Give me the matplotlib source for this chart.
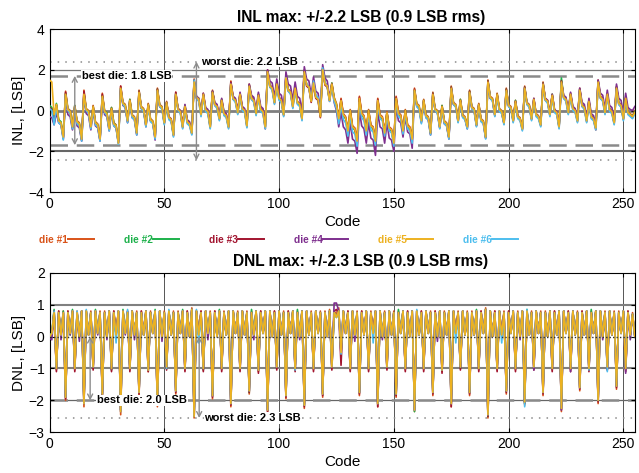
import numpy as np
import matplotlib
matplotlib.use("Agg")
import matplotlib.pyplot as plt
from matplotlib.lines import Line2D

plt.rcParams['font.family'] = ['Liberation Sans', 'DejaVu Sans']

# ==== data: INL / DNL per die (LSB), code 0..255 ====
codes = np.arange(256)

inl_die1 = [
    0.2, 0.1, -0.6, 0.3, -0.5, -0.6, -1.3, 0.95,
    0.1, 0.0, -0.75, 0.25, -0.5, -0.6, -1.35, 1.0,
    0.1, 0.0, -0.75, 0.25, -0.55, -0.65, -1.35, 0.85,
    0.0, -0.1, -0.85, 0.15, -0.6, -0.7, -1.5, 1.2,
    0.4, 0.3, -0.45, 0.55, -0.2, -0.3, -1.05, 1.0,
    0.2, 0.1, -0.65, 0.35, -0.4, -0.5, -1.25, 1.1,
    0.3, 0.2, -0.55, 0.45, -0.3, -0.4, -1.15, 0.9,
    0.1, 0.0, -0.75, 0.25, -0.5, -0.6, -1.05, 1.55,
    0.7, 0.6, -0.15, 0.85, 0.1, 0.0, -0.75, 1.0,
    0.35, 0.25, -0.35, 0.55, -0.1, -0.2, -0.75, 1.45,
    0.65, 0.55, -0.05, 0.85, 0.15, 0.05, -0.7, 1.3,
    0.65, 0.55, -0.1, 0.8, 0.1, 0.0, -0.75, 2.0,
    1.25, 1.15, 0.45, 1.35, 0.65, 0.55, -0.15, 1.7,
    1.05, 0.95, 0.25, 1.15, 0.45, 0.35, -0.35, 2.0,
    1.3, 1.2, 0.5, 1.4, 0.7, 0.6, -0.25, 2.05,
    1.35, 1.25, 0.55, 1.35, 0.65, 0.35, -0.35, 0.6,
    -0.15, -0.3, -0.95, 0.05, -0.75, -0.85, -1.45, 0.7,
    -0.1, -0.25, -0.95, 0.05, -0.7, -0.8, -1.45, 0.6,
    -0.2, -0.3, -1.05, -0.05, -0.8, -0.9, -1.55, 0.7,
    -0.1, -0.2, -0.95, 0.05, -0.7, -0.8, -1.35, 1.1,
    0.35, 0.25, -0.45, 0.55, -0.2, -0.3, -1.05, 0.9,
    0.1, 0.0, -0.75, 0.25, -0.5, -0.6, -1.25, 1.2,
    0.4, 0.3, -0.45, 0.55, -0.2, -0.3, -0.75, 1.0,
    0.2, 0.1, -0.65, 0.35, -0.4, -0.5, -1.25, 1.5,
    0.7, 0.6, -0.15, 0.85, 0.1, 0.0, -0.55, 1.1,
    0.3, 0.2, -0.45, 0.5, -0.25, -0.35, -0.85, 1.2,
    0.4, 0.3, -0.35, 0.6, -0.15, -0.25, -0.65, 1.4,
    0.6, 0.5, -0.15, 0.8, 0.05, -0.05, -0.75, 1.5,
    0.7, 0.6, -0.05, 0.85, 0.15, 0.05, -0.45, 1.1,
    0.3, 0.2, -0.45, 0.5, -0.25, -0.35, -0.8, 1.5,
    0.7, 0.6, -0.05, 0.85, 0.1, 0.0, -0.55, 1.2,
    0.4, 0.3, -0.35, 0.65, -0.05, -0.15, -0.25, 0.0,
]
inl_die2 = [
    0.25, 0.15, -0.55, 0.35, -0.45, -0.55, -1.25, 0.85,
    0.05, -0.05, -0.8, 0.25, -0.55, -0.65, -1.4, 0.85,
    0.05, -0.05, -0.75, 0.2, -0.6, -0.7, -1.4, 0.75,
    -0.05, -0.1, -0.9, 0.15, -0.6, -0.75, -1.55, 1.1,
    0.35, 0.25, -0.5, 0.55, -0.25, -0.35, -1.1, 0.95,
    0.15, 0.05, -0.7, 0.3, -0.45, -0.55, -1.3, 1.05,
    0.25, 0.15, -0.6, 0.4, -0.35, -0.45, -1.2, 0.85,
    0.05, -0.05, -0.8, 0.25, -0.55, -0.65, -1.1, 1.45,
    0.65, 0.6, -0.2, 0.8, 0.05, -0.05, -0.8, 0.95,
    0.3, 0.2, -0.4, 0.55, -0.15, -0.25, -0.8, 1.35,
    0.6, 0.5, -0.1, 0.8, 0.1, 0.0, -0.75, 1.25,
    0.6, 0.5, -0.15, 0.8, 0.05, -0.05, -0.8, 1.95,
    1.2, 1.1, 0.4, 1.35, 0.6, 0.5, -0.2, 1.65,
    1.0, 0.9, 0.25, 1.15, 0.4, 0.3, -0.4, 1.95,
    1.25, 1.15, 0.45, 1.4, 0.65, 0.55, -0.3, 2.05,
    1.3, 1.2, 0.5, 1.35, 0.6, 0.3, -0.45, 0.5,
    -0.25, -0.4, -1.05, 0.0, -0.85, -0.95, -1.55, 0.55,
    -0.2, -0.35, -1.05, 0.0, -0.8, -0.9, -1.55, 0.5,
    -0.3, -0.4, -1.15, -0.1, -0.9, -1.0, -1.65, 0.55,
    -0.2, -0.3, -1.05, 0.0, -0.8, -0.9, -1.45, 1.0,
    0.3, 0.2, -0.5, 0.5, -0.25, -0.35, -1.1, 0.85,
    0.05, -0.05, -0.8, 0.25, -0.55, -0.65, -1.3, 1.15,
    0.35, 0.25, -0.5, 0.55, -0.25, -0.35, -0.8, 0.95,
    0.15, 0.05, -0.7, 0.3, -0.45, -0.55, -1.3, 1.45,
    0.65, 0.55, -0.2, 0.8, 0.05, -0.05, -0.6, 1.05,
    0.25, 0.15, -0.5, 0.5, -0.3, -0.4, -0.9, 1.15,
    0.35, 0.25, -0.4, 0.55, -0.2, -0.3, -0.7, 1.35,
    0.55, 0.45, -0.2, 0.8, 0.0, -0.1, -0.8, 1.6,
    0.65, 0.55, -0.1, 0.8, 0.1, 0.0, -0.5, 1.05,
    0.25, 0.15, -0.5, 0.5, -0.3, -0.4, -0.85, 1.45,
    0.65, 0.55, -0.1, 0.8, 0.05, -0.05, -0.6, 1.15,
    0.35, 0.25, -0.4, 0.6, -0.1, -0.2, -0.3, -0.05,
]
inl_die3 = [
    0.15, 0.05, -0.65, 0.25, -0.55, -0.65, -1.35, 0.9,
    0.0, -0.1, -0.85, 0.2, -0.6, -0.7, -1.45, 0.95,
    0.0, -0.1, -0.85, 0.2, -0.65, -0.75, -1.45, 0.8,
    -0.1, -0.2, -0.95, 0.1, -0.7, -0.8, -1.6, 1.2,
    0.3, 0.2, -0.55, 0.5, -0.3, -0.4, -1.15, 0.95,
    0.1, 0.0, -0.75, 0.3, -0.5, -0.6, -1.35, 1.05,
    0.2, 0.1, -0.65, 0.4, -0.4, -0.5, -1.25, 0.9,
    0.0, -0.1, -0.85, 0.2, -0.6, -0.7, -1.15, 1.5,
    0.6, 0.5, -0.25, 0.8, 0.0, -0.1, -0.85, 0.95,
    0.25, 0.15, -0.45, 0.5, -0.2, -0.3, -0.85, 1.4,
    0.55, 0.45, -0.15, 0.8, 0.05, -0.05, -0.8, 1.25,
    0.55, 0.45, -0.2, 0.75, 0.0, -0.1, -0.9, 1.95,
    1.15, 1.05, 0.35, 1.3, 0.55, 0.45, -0.25, 1.65,
    0.95, 0.85, 0.15, 1.1, 0.35, 0.25, -0.45, 1.95,
    1.2, 1.1, 0.4, 1.35, 0.6, 0.5, -0.35, 2.05,
    1.25, 1.15, 0.45, 1.3, 0.55, 0.25, -0.45, 0.55,
    -0.2, -0.35, -1.05, 0.0, -0.8, -0.9, -1.5, 0.65,
    -0.15, -0.3, -1.0, 0.0, -0.75, -0.85, -1.5, 0.55,
    -0.25, -0.35, -1.1, -0.1, -0.85, -0.95, -1.6, 0.65,
    -0.15, -0.25, -1.0, 0.0, -0.75, -0.85, -1.4, 1.05,
    0.25, 0.15, -0.55, 0.5, -0.3, -0.4, -1.15, 0.85,
    0.0, -0.1, -0.85, 0.2, -0.6, -0.7, -1.35, 1.15,
    0.3, 0.2, -0.55, 0.5, -0.3, -0.4, -0.85, 0.95,
    0.1, 0.0, -0.75, 0.3, -0.5, -0.6, -1.35, 1.45,
    0.6, 0.5, -0.25, 0.8, 0.0, -0.1, -0.65, 1.05,
    0.2, 0.1, -0.55, 0.45, -0.35, -0.45, -0.95, 1.15,
    0.3, 0.2, -0.45, 0.55, -0.25, -0.35, -0.75, 1.35,
    0.5, 0.4, -0.25, 0.75, -0.05, -0.15, -0.85, 1.45,
    0.6, 0.5, -0.15, 0.8, 0.05, -0.05, -0.55, 1.05,
    0.2, 0.1, -0.55, 0.45, -0.35, -0.45, -0.95, 1.45,
    0.6, 0.5, -0.15, 0.8, 0.0, -0.1, -0.65, 1.15,
    0.3, 0.2, -0.45, 0.6, -0.15, -0.25, -0.35, -0.1,
]
inl_die4 = [
    -0.3, -0.35, -0.7, -0.1, -0.6, -0.7, -1.4, 0.7,
    -0.2, -0.3, -0.95, -0.05, -0.75, -0.85, -1.5, 0.7,
    -0.15, -0.25, -0.95, 0.0, -0.75, -0.85, -1.5, 0.6,
    -0.2, -0.3, -1.0, -0.05, -0.75, -0.85, -1.6, 1.0,
    0.25, 0.15, -0.6, 0.4, -0.35, -0.45, -1.2, 0.85,
    0.1, 0.0, -0.8, 0.25, -0.5, -0.6, -1.45, 0.95,
    0.2, 0.1, -0.6, 0.4, -0.35, -0.45, -1.2, 0.8,
    0.1, 0.0, -0.7, 0.3, -0.45, -0.55, -1.1, 1.4,
    0.7, 0.6, -0.1, 0.85, 0.15, 0.05, -0.7, 0.95,
    0.4, 0.3, -0.3, 0.6, -0.05, -0.15, -0.7, 1.35,
    0.7, 0.6, 0.0, 0.9, 0.2, 0.1, -0.65, 1.3,
    0.75, 0.65, 0.0, 0.9, 0.2, 0.1, -0.6, 2.0,
    1.45, 1.35, 0.65, 1.55, 0.85, 0.75, 0.05, 1.9,
    1.3, 1.2, 0.5, 1.4, 0.7, 0.6, -0.1, 2.15,
    1.55, 1.45, 0.75, 1.65, 0.95, 0.85, 0.0, 2.25,
    1.6, 1.45, 0.6, 1.3, 0.4, 0.0, -0.8, -0.1,
    -0.8, -0.95, -1.6, -0.6, -1.4, -1.5, -2.1, 0.0,
    -0.75, -0.9, -1.6, -0.6, -1.35, -1.45, -2.2, -0.1,
    -0.8, -0.9, -1.6, -0.6, -1.35, -1.45, -2.0, 0.2,
    -0.5, -0.6, -1.3, -0.3, -1.05, -1.15, -1.85, 0.85,
    0.2, 0.1, -0.6, 0.4, -0.35, -0.45, -1.2, 0.75,
    0.0, -0.1, -0.85, 0.15, -0.65, -0.75, -1.4, 1.05,
    0.3, 0.2, -0.55, 0.45, -0.3, -0.4, -0.9, 0.85,
    0.1, 0.0, -0.75, 0.25, -0.5, -0.6, -1.35, 1.35,
    0.6, 0.5, -0.25, 0.75, 0.0, -0.1, -0.65, 0.95,
    0.25, 0.15, -0.5, 0.45, -0.3, -0.4, -0.9, 1.1,
    0.35, 0.25, -0.4, 0.6, -0.2, -0.3, -0.7, 1.3,
    0.6, 0.5, -0.15, 0.8, 0.05, -0.05, -0.75, 1.4,
    0.75, 0.65, 0.0, 0.9, 0.2, 0.1, -0.4, 1.1,
    0.4, 0.3, -0.35, 0.6, -0.15, -0.25, -0.7, 1.5,
    0.85, 0.75, 0.1, 1.0, 0.25, 0.15, -0.4, 1.3,
    0.6, 0.5, -0.15, 0.85, 0.15, 0.05, 0.0, 0.2,
]
inl_die5 = [
    1.5, 1.4, -0.2, 0.3, -0.5, -0.6, -1.3, 0.8,
    0.05, -0.05, -0.8, 0.2, -0.55, -0.65, -1.4, 0.8,
    0.05, -0.05, -0.8, 0.2, -0.6, -0.7, -1.4, 0.7,
    -0.05, -0.15, -0.9, 0.1, -0.65, -0.75, -1.6, 1.1,
    0.35, 0.25, -0.5, 0.5, -0.25, -0.35, -1.1, 0.9,
    0.15, 0.05, -0.7, 0.3, -0.45, -0.55, -1.3, 1.0,
    0.25, 0.15, -0.6, 0.4, -0.35, -0.45, -1.2, 0.8,
    0.05, -0.05, -0.8, 0.2, -0.55, -0.65, -1.1, 1.4,
    0.65, 0.55, -0.2, 0.8, 0.05, -0.05, -0.8, 0.9,
    0.3, 0.2, -0.4, 0.5, -0.15, -0.25, -0.8, 1.3,
    0.6, 0.5, -0.1, 0.8, 0.1, 0.0, -0.75, 1.2,
    0.6, 0.5, -0.15, 0.75, 0.05, -0.05, -0.8, 1.9,
    1.2, 1.1, 0.4, 1.3, 0.6, 0.5, -0.2, 1.6,
    1.0, 0.9, 0.2, 1.1, 0.4, 0.3, -0.4, 1.9,
    1.25, 1.15, 0.45, 1.35, 0.65, 0.55, -0.3, 2.0,
    1.3, 1.2, 0.5, 1.3, 0.6, 0.3, -0.4, 0.5,
    -0.2, -0.35, -1.0, 0.0, -0.8, -0.9, -1.5, 0.6,
    -0.15, -0.3, -1.0, 0.0, -0.75, -0.85, -1.5, 0.5,
    -0.25, -0.35, -1.1, -0.1, -0.85, -0.95, -1.6, 0.6,
    -0.15, -0.25, -1.0, 0.0, -0.75, -0.85, -1.4, 1.0,
    0.3, 0.2, -0.5, 0.5, -0.25, -0.35, -1.1, 0.8,
    0.05, -0.05, -0.8, 0.2, -0.55, -0.65, -1.3, 1.1,
    0.35, 0.25, -0.5, 0.5, -0.25, -0.35, -0.8, 0.9,
    0.15, 0.05, -0.7, 0.3, -0.45, -0.55, -1.3, 1.4,
    0.65, 0.55, -0.2, 0.8, 0.05, -0.05, -0.6, 1.0,
    0.25, 0.15, -0.5, 0.45, -0.3, -0.4, -0.9, 1.1,
    0.35, 0.25, -0.4, 0.55, -0.2, -0.3, -0.7, 1.3,
    0.55, 0.45, -0.2, 0.75, 0.0, -0.1, -0.8, 1.4,
    0.65, 0.55, -0.1, 0.8, 0.1, 0.0, -0.5, 1.0,
    0.25, 0.15, -0.5, 0.45, -0.3, -0.4, -0.85, 1.4,
    0.65, 0.55, -0.1, 0.8, 0.05, -0.05, -0.6, 1.1,
    0.35, 0.25, -0.4, 0.6, -0.1, -0.2, -0.3, -0.1,
]
inl_die6 = [
    0.1, 0.0, -0.7, 0.2, -0.6, -0.7, -1.45, 0.75,
    0.0, -0.15, -0.9, 0.1, -0.65, -0.75, -1.5, 0.75,
    0.0, -0.15, -0.9, 0.1, -0.7, -0.8, -1.5, 0.65,
    -0.1, -0.25, -1.0, 0.0, -0.75, -0.85, -1.65, 1.05,
    0.3, 0.15, -0.6, 0.4, -0.35, -0.45, -1.2, 0.85,
    0.1, -0.05, -0.8, 0.2, -0.55, -0.65, -1.4, 0.95,
    0.2, 0.05, -0.7, 0.3, -0.45, -0.55, -1.3, 0.75,
    0.0, -0.15, -0.9, 0.1, -0.65, -0.75, -1.2, 1.5,
    0.6, 0.45, -0.3, 0.7, -0.05, -0.15, -0.9, 0.85,
    0.25, 0.1, -0.5, 0.4, -0.25, -0.35, -0.9, 1.25,
    0.55, 0.4, -0.2, 0.7, 0.0, -0.1, -0.85, 1.15,
    0.55, 0.4, -0.25, 0.65, -0.05, -0.15, -0.9, 1.85,
    1.15, 1.0, 0.3, 1.2, 0.5, 0.4, -0.3, 1.6,
    0.95, 0.8, 0.1, 1.0, 0.3, 0.2, -0.5, 1.85,
    1.3, 1.15, 0.5, 1.45, 0.75, 0.65, -0.2, 2.1,
    1.35, 1.2, 0.45, 1.2, 0.45, 0.1, -0.65, 0.3,
    -0.45, -0.6, -1.25, -0.25, -1.05, -1.15, -1.75, 0.4,
    -0.35, -0.5, -1.2, -0.2, -0.95, -1.05, -1.7, 0.35,
    -0.4, -0.5, -1.25, -0.25, -1.0, -1.1, -1.75, 0.45,
    -0.3, -0.4, -1.15, -0.15, -0.9, -1.0, -1.6, 0.95,
    0.2, 0.05, -0.65, 0.4, -0.35, -0.45, -1.2, 0.75,
    0.0, -0.15, -0.9, 0.1, -0.65, -0.75, -1.4, 1.05,
    0.3, 0.15, -0.6, 0.4, -0.35, -0.45, -0.9, 0.85,
    0.1, -0.05, -0.8, 0.2, -0.55, -0.65, -1.4, 1.35,
    0.6, 0.45, -0.3, 0.7, -0.05, -0.15, -0.7, 0.95,
    0.2, 0.05, -0.6, 0.35, -0.4, -0.5, -1.0, 1.05,
    0.3, 0.15, -0.5, 0.45, -0.3, -0.4, -0.8, 1.25,
    0.5, 0.35, -0.3, 0.65, -0.1, -0.2, -0.9, 1.35,
    0.6, 0.45, -0.2, 0.7, 0.0, -0.1, -0.6, 0.95,
    0.2, 0.05, -0.6, 0.35, -0.4, -0.5, -0.95, 1.35,
    0.6, 0.45, -0.2, 0.7, -0.05, -0.15, -0.7, 1.05,
    0.3, 0.15, -0.5, 0.5, -0.2, -0.3, -0.4, -0.15,
]

dnl_die1 = [
    0.0, 0.05, 0.8, -1.05, 0.8, 0.05, 0.8, -2.0,
    0.8, 0.1, 0.8, -1.05, 0.8, 0.0, 0.8, -2.2,
    0.8, 0.05, 0.8, -1.0, 0.8, 0.1, 0.8, -1.9,
    0.8, 0.0, 0.8, -1.05, 0.8, 0.05, 0.8, -2.45,
    0.8, 0.1, 0.8, -1.05, 0.8, 0.05, 0.8, -1.85,
    0.8, 0.05, 0.8, -1.1, 0.8, 0.1, 0.8, -2.2,
    0.8, 0.0, 0.8, -1.0, 0.8, 0.05, 0.8, -1.8,
    0.8, 0.1, 0.8, -1.05, 0.8, 0.0, 0.9, -2.55,
    0.8, 0.05, 0.8, -1.05, 0.8, 0.1, 0.8, -1.95,
    0.8, 0.0, 0.8, -1.05, 0.8, 0.05, 0.8, -2.2,
    0.8, 0.1, 0.8, -1.05, 0.8, 0.05, 0.8, -1.8,
    0.8, 0.05, 0.8, -1.1, 0.8, 0.1, 0.8, -2.4,
    0.8, 0.0, 0.8, -1.0, 0.8, 0.05, 0.8, -1.95,
    0.8, 0.1, 0.8, -1.05, 0.8, 0.0, 0.8, -2.25,
    0.8, 0.05, 0.8, -1.05, 0.8, 0.1, 0.8, -1.9,
    0.8, 0.0, 0.85, -1.0, 0.8, 0.7, 0.9, -0.6,
    0.8, 0.1, 0.8, -1.05, 0.8, 0.05, 0.8, -1.85,
    0.8, 0.05, 0.8, -1.05, 0.8, 0.1, 0.8, -2.2,
    0.8, 0.0, 0.8, -1.0, 0.8, 0.05, 0.8, -1.9,
    0.8, 0.1, 0.8, -1.05, 0.8, 0.0, 0.8, -2.35,
    0.8, 0.05, 0.8, -1.05, 0.8, 0.1, 0.8, -1.85,
    0.8, 0.0, 0.8, -1.1, 0.8, 0.05, 0.8, -2.2,
    0.8, 0.1, 0.8, -1.0, 0.8, 0.05, 0.8, -1.85,
    0.8, 0.05, 0.8, -1.05, 0.8, 0.1, 0.9, -2.55,
    0.8, 0.0, 0.8, -1.05, 0.8, 0.05, 0.8, -1.8,
    0.8, 0.1, 0.8, -1.05, 0.8, 0.0, 0.8, -2.15,
    0.8, 0.05, 0.8, -1.0, 0.8, 0.1, 0.8, -1.85,
    0.8, 0.0, 0.8, -1.05, 0.8, 0.05, 0.8, -2.35,
    0.8, 0.1, 0.8, -1.05, 0.8, 0.05, 0.8, -1.7,
    0.8, 0.05, 0.8, -1.05, 0.8, 0.1, 0.8, -2.1,
    0.8, 0.0, 0.8, -1.0, 0.8, 0.05, 0.8, -1.65,
    0.8, 0.1, 0.8, -1.05, 0.8, 0.05, 0.75, 0.0,
]
dnl_die2 = [
    0.05, 0.1, 0.85, -1.0, 0.75, 0.05, 0.8, -1.9,
    0.75, 0.05, 0.85, -1.0, 0.75, 0.0, 0.8, -2.05,
    0.8, 0.05, 0.75, -0.95, 0.85, 0.1, 0.75, -1.8,
    0.75, -0.05, 0.8, -1.05, 0.75, 0.05, 0.8, -2.3,
    0.85, 0.1, 0.75, -1.0, 0.8, 0.05, 0.75, -1.75,
    0.75, 0.05, 0.8, -1.05, 0.75, 0.1, 0.85, -2.1,
    0.8, 0.0, 0.75, -1.0, 0.8, 0.05, 0.75, -1.7,
    0.75, 0.1, 0.85, -1.0, 0.75, 0.0, 0.85, -2.45,
    0.8, 0.05, 0.75, -1.05, 0.8, 0.1, 0.75, -1.85,
    0.75, 0.0, 0.85, -1.0, 0.75, 0.05, 0.8, -2.1,
    0.8, 0.1, 0.75, -1.0, 0.8, 0.05, 0.75, -1.75,
    0.85, 0.05, 0.8, -1.05, 0.75, 0.1, 0.8, -2.3,
    0.8, 0.0, 0.75, -0.95, 0.8, 0.05, 0.75, -1.85,
    0.75, 0.1, 0.8, -1.0, 0.85, 0.0, 0.8, -2.15,
    0.8, 0.05, 0.75, -1.0, 0.8, 0.1, 0.75, -1.8,
    0.75, 0.0, 0.8, -0.95, 0.75, 0.6, 0.8, -0.5,
    0.8, 0.1, 0.75, -1.0, 0.8, 0.05, 0.75, -1.75,
    0.75, 0.05, 0.8, -1.0, 0.75, 0.1, 0.8, -2.1,
    0.8, 0.0, 0.75, -0.95, 0.8, 0.05, 0.75, -1.8,
    0.85, 0.1, 0.8, -1.0, 0.75, 0.0, 0.8, -2.35,
    0.8, 0.05, 0.75, -1.0, 0.8, 0.1, 0.75, -1.75,
    0.75, 0.0, 0.8, -1.05, 0.75, 0.05, 0.8, -2.1,
    0.8, 0.1, 0.75, -1.0, 0.8, 0.05, 0.75, -1.75,
    0.75, 0.05, 0.85, -1.0, 0.75, 0.1, 0.85, -2.5,
    0.8, 0.0, 0.75, -1.0, 0.8, 0.05, 0.75, -1.7,
    0.75, 0.1, 0.8, -1.0, 0.75, 0.0, 0.8, -2.1,
    0.85, 0.05, 0.75, -0.95, 0.8, 0.1, 0.75, -1.75,
    0.75, 0.0, 0.8, -1.0, 0.75, 0.05, 0.8, -2.25,
    0.8, 0.1, 0.75, -1.0, 0.8, 0.05, 0.75, -1.6,
    0.75, 0.05, 0.8, -1.0, 0.85, 0.1, 0.8, -2.0,
    0.8, 0.0, 0.75, -0.95, 0.8, 0.05, 0.75, -1.55,
    0.75, 0.1, 0.8, -1.0, 0.75, 0.05, 0.7, 0.0,
]
dnl_die3 = [
    0.0, 0.05, 0.8, -1.1, 0.8, 0.05, 0.75, -1.95,
    0.8, 0.1, 0.8, -1.1, 0.75, 0.0, 0.8, -2.1,
    0.8, 0.05, 0.75, -1.05, 0.8, 0.1, 0.75, -1.85,
    0.75, 0.0, 0.8, -1.1, 0.8, 0.05, 0.8, -2.35,
    0.8, 0.1, 0.8, -1.1, 0.8, 0.05, 0.75, -1.8,
    0.8, 0.05, 0.8, -1.1, 0.75, 0.1, 0.8, -2.15,
    0.8, 0.0, 0.75, -1.05, 0.8, 0.05, 0.75, -1.75,
    0.75, 0.1, 0.8, -1.1, 0.8, 0.0, 0.85, -2.5,
    0.8, 0.05, 0.8, -1.1, 0.8, 0.1, 0.75, -1.9,
    0.8, 0.0, 0.8, -1.1, 0.75, 0.05, 0.8, -2.15,
    0.8, 0.1, 0.75, -1.1, 0.8, 0.05, 0.75, -1.75,
    0.75, 0.05, 0.8, -1.15, 0.8, 0.1, 0.8, -2.35,
    0.8, 0.0, 0.8, -1.05, 0.8, 0.05, 0.75, -1.9,
    0.8, 0.1, 0.8, -1.1, 0.75, 0.0, 0.8, -2.2,
    0.8, 0.05, 0.75, -1.1, 0.8, 0.1, 0.75, -1.85,
    0.75, 0.0, 0.8, -1.05, 0.8, 0.85, 0.7, -0.9,
    0.8, 0.1, 0.8, -1.1, 0.8, 0.05, 0.75, -1.8,
    0.8, 0.05, 0.8, -1.1, 0.75, 0.1, 0.8, -2.2,
    0.8, 0.0, 0.75, -1.05, 0.8, 0.05, 0.75, -1.85,
    0.75, 0.1, 0.8, -1.1, 0.8, 0.0, 0.8, -2.3,
    0.8, 0.05, 0.8, -1.1, 0.8, 0.1, 0.75, -1.8,
    0.8, 0.0, 0.8, -1.15, 0.75, 0.05, 0.8, -2.2,
    0.8, 0.1, 0.75, -1.05, 0.8, 0.05, 0.75, -1.8,
    0.75, 0.05, 0.8, -1.1, 0.8, 0.1, 0.85, -2.5,
    0.8, 0.0, 0.8, -1.1, 0.8, 0.05, 0.75, -1.75,
    0.8, 0.1, 0.8, -1.1, 0.75, 0.0, 0.8, -2.1,
    0.8, 0.05, 0.75, -1.05, 0.8, 0.1, 0.75, -1.8,
    0.75, 0.0, 0.8, -1.1, 0.8, 0.05, 0.8, -2.3,
    0.8, 0.1, 0.8, -1.1, 0.8, 0.05, 0.75, -1.65,
    0.8, 0.05, 0.8, -1.1, 0.75, 0.1, 0.8, -2.05,
    0.8, 0.0, 0.75, -1.05, 0.8, 0.05, 0.75, -1.6,
    0.75, 0.1, 0.8, -1.1, 0.8, 0.05, 0.7, 0.0,
]
dnl_die4 = [
    -0.05, -0.1, 0.75, -1.0, 0.75, -0.1, 0.75, -1.9,
    0.75, 0.05, 0.8, -1.0, 0.75, -0.15, 0.8, -2.05,
    0.75, 0.05, 0.75, -0.95, 0.8, 0.05, 0.75, -1.8,
    0.75, -0.1, 0.8, -1.0, 0.75, 0.05, 0.8, -2.3,
    0.8, 0.05, 0.75, -1.0, 0.8, -0.1, 0.75, -1.75,
    0.75, 0.05, 0.8, -1.0, 0.75, 0.1, 0.8, -2.1,
    0.8, -0.15, 0.75, -0.95, 0.8, 0.05, 0.75, -1.7,
    0.75, 0.1, 0.8, -1.0, 0.75, 0.0, 0.85, -2.45,
    0.8, 0.05, 0.75, -1.0, 0.8, -0.1, 0.75, -1.85,
    0.75, 0.0, 0.8, -1.0, 0.75, 0.05, 0.8, -2.1,
    0.8, 0.1, 0.75, -1.0, 0.8, 0.05, 0.75, -1.7,
    0.75, -0.1, 0.8, -1.05, 0.75, 0.1, 0.8, -2.3,
    0.8, 0.0, 0.75, -0.95, 0.8, 0.05, 0.75, -1.85,
    0.75, 0.1, 0.8, -1.0, 0.75, -0.1, 0.8, -2.1,
    0.8, 0.05, 0.75, -1.0, 0.8, 0.1, 0.75, -1.8,
    0.75, 0.0, 0.8, -0.9, 1.05, 1.05, 0.8, -0.3,
    0.8, 0.1, 0.75, -1.0, 0.8, -0.15, 0.75, -1.75,
    0.75, 0.05, 0.8, -1.0, 0.75, 0.1, 0.8, -2.1,
    0.8, -0.1, 0.75, -0.95, 0.8, 0.05, 0.75, -1.8,
    0.75, 0.1, 0.8, -1.0, 0.75, 0.0, 0.8, -2.3,
    0.8, 0.05, 0.75, -1.0, 0.8, 0.1, 0.75, -1.75,
    0.75, -0.15, 0.8, -1.05, 0.75, 0.05, 0.8, -2.1,
    0.8, 0.1, 0.75, -0.95, 0.8, 0.05, 0.75, -1.75,
    0.75, 0.05, 0.8, -1.0, 0.75, 0.1, 0.85, -2.45,
    0.8, 0.0, 0.75, -1.0, 0.8, 0.05, 0.75, -1.7,
    0.75, 0.1, 0.8, -1.0, 0.75, -0.1, 0.8, -2.05,
    0.8, 0.05, 0.75, -1.05, 0.8, 0.1, 0.75, -1.75,
    0.75, 0.0, 0.8, -1.0, 0.75, 0.05, 0.8, -2.3,
    0.8, 0.1, 0.75, -1.1, 0.8, 0.05, 0.75, -1.6,
    0.75, 0.05, 0.8, -1.0, 0.75, 0.1, 0.8, -2.0,
    0.8, -0.1, 0.75, -1.05, 0.8, 0.05, 0.75, -1.55,
    0.75, 0.1, 0.8, -1.15, 0.75, -0.1, 0.7, 0.0,
]
dnl_die5 = [
    0.0, 0.1, 0.75, -1.0, 0.75, 0.05, 0.75, -1.9,
    0.75, 0.1, 0.8, -1.0, 0.75, 0.0, 0.8, -2.1,
    0.8, 0.05, 0.75, -0.95, 0.8, 0.1, 0.75, -1.8,
    0.75, 0.0, 0.8, -1.0, 0.75, 0.05, 0.8, -2.35,
    0.8, 0.1, 0.75, -1.0, 0.8, 0.05, 0.75, -1.75,
    0.75, 0.05, 0.8, -1.05, 0.75, 0.1, 0.8, -2.1,
    0.8, 0.0, 0.75, -0.95, 0.8, 0.05, 0.75, -1.7,
    0.75, 0.1, 0.8, -1.0, 0.75, 0.0, 0.85, -2.5,
    0.8, 0.05, 0.75, -1.0, 0.8, 0.1, 0.75, -1.85,
    0.75, 0.0, 0.8, -1.0, 0.75, 0.05, 0.8, -2.1,
    0.8, 0.1, 0.75, -1.0, 0.8, 0.05, 0.75, -1.7,
    0.75, 0.05, 0.8, -1.05, 0.75, 0.1, 0.8, -2.3,
    0.8, 0.0, 0.75, -0.95, 0.8, 0.05, 0.75, -1.85,
    0.75, 0.1, 0.8, -1.0, 0.75, 0.0, 0.8, -2.15,
    0.8, 0.05, 0.75, -1.0, 0.8, 0.1, 0.75, -1.8,
    0.75, 0.0, 0.8, -0.95, 0.75, 0.6, 0.8, -0.5,
    0.8, 0.1, 0.75, -1.0, 0.8, 0.05, 0.75, -1.75,
    0.75, 0.05, 0.8, -1.0, 0.75, 0.1, 0.8, -2.1,
    0.8, 0.0, 0.75, -0.95, 0.8, 0.05, 0.75, -1.8,
    0.75, 0.1, 0.8, -1.0, 0.75, 0.0, 0.8, -2.3,
    0.8, 0.05, 0.75, -1.0, 0.8, 0.1, 0.75, -1.75,
    0.75, 0.0, 0.8, -1.05, 0.75, 0.05, 0.8, -2.1,
    0.8, 0.1, 0.75, -0.95, 0.8, 0.05, 0.75, -1.75,
    0.75, 0.05, 0.8, -1.0, 0.75, 0.1, 0.85, -2.45,
    0.8, 0.0, 0.75, -1.0, 0.8, 0.05, 0.75, -1.7,
    0.75, 0.1, 0.8, -1.0, 0.75, 0.0, 0.8, -2.05,
    0.8, 0.05, 0.75, -0.95, 0.8, 0.1, 0.75, -1.75,
    0.75, 0.0, 0.8, -1.0, 0.75, 0.05, 0.8, -2.25,
    0.8, 0.1, 0.75, -1.0, 0.8, 0.05, 0.75, -1.6,
    0.75, 0.05, 0.8, -1.0, 0.75, 0.1, 0.8, -2.0,
    0.8, 0.0, 0.75, -0.95, 0.8, 0.05, 0.75, -1.55,
    0.75, 0.1, 0.8, -1.0, 0.75, 0.05, 0.7, 0.0,
]
dnl_die6 = [
    0.0, 0.1, 0.8, -1.0, 0.75, 0.05, 0.75, -1.9,
    0.75, 0.1, 0.8, -1.0, 0.8, 0.0, 0.8, -2.1,
    0.85, 0.05, 0.75, -0.95, 0.8, 0.1, 0.75, -1.8,
    0.75, 0.0, 0.8, -1.0, 0.75, -0.2, 0.8, -2.35,
    0.8, 0.1, 0.85, -1.0, 0.8, 0.05, 0.75, -1.75,
    0.75, 0.05, 0.8, -1.05, 0.75, 0.1, 0.8, -2.1,
    0.8, 0.0, 0.75, -1.0, 0.85, 0.05, 0.75, -1.7,
    0.75, 0.1, 0.8, -1.0, 0.75, 0.0, 0.85, -2.5,
    0.85, -0.2, 0.75, -1.0, 0.8, 0.1, 0.75, -1.85,
    0.75, 0.0, 0.8, -1.0, 0.75, 0.05, 0.8, -2.1,
    0.8, 0.1, 0.75, -1.0, 0.8, 0.05, 0.75, -1.7,
    0.75, 0.05, 0.8, -1.05, 0.75, 0.1, 0.8, -2.3,
    0.8, 0.0, 0.75, -0.95, 0.8, 0.05, 0.75, -1.85,
    0.75, 0.1, 0.8, -1.05, 0.75, 0.0, 0.8, -2.15,
    0.8, 0.05, 0.75, -1.0, 0.8, 0.1, 0.75, -1.8,
    0.75, 0.0, 0.8, -0.95, 0.75, 0.6, 0.8, -0.55,
    0.8, 0.1, 0.75, -1.0, 0.8, 0.05, 0.75, -1.75,
    0.75, 0.05, 0.8, -1.0, 0.75, -0.2, 0.8, -2.1,
    0.8, 0.0, 0.75, -0.95, 0.8, 0.05, 0.75, -1.8,
    0.75, 0.1, 0.8, -1.0, 0.75, 0.0, 0.8, -2.3,
    0.85, 0.05, 0.75, -1.0, 0.8, 0.1, 0.75, -1.75,
    0.75, 0.0, 0.8, -1.05, 0.75, 0.05, 0.8, -2.1,
    0.8, -0.2, 0.75, -0.95, 0.8, 0.05, 0.75, -1.75,
    0.75, 0.05, 0.8, -1.0, 0.75, 0.1, 0.85, -2.45,
    0.8, 0.0, 0.75, -1.0, 0.8, -0.2, 0.75, -1.7,
    0.75, 0.1, 0.8, -1.0, 0.75, 0.0, 0.8, -2.2,
    0.85, 0.05, 0.75, -0.95, 0.8, 0.1, 0.75, -1.75,
    0.75, 0.0, 0.8, -1.0, 0.75, 0.05, 0.8, -2.25,
    0.8, 0.1, 0.75, -1.0, 0.8, 0.05, 0.75, -1.6,
    0.75, 0.05, 0.8, -1.05, 0.75, 0.1, 0.8, -2.0,
    0.8, 0.0, 0.75, -1.1, 0.8, 0.05, 0.75, -1.55,
    0.75, 0.1, 0.8, -1.0, 0.75, 0.05, 0.7, 0.0,
]

die_names = ["die #1", "die #2", "die #3", "die #4", "die #5", "die #6"]
die_colors = ["#D95319", "#1DB14B", "#A2142F", "#7E2F8E", "#EDB120", "#4DBEEE"]
inl_all = [inl_die1, inl_die2, inl_die3, inl_die4, inl_die5, inl_die6]
dnl_all = [dnl_die1, dnl_die2, dnl_die3, dnl_die4, dnl_die5, dnl_die6]
draw_order = [0, 1, 2, 3, 5, 4]  # yellow on top

# limit lines / annotations
inl_best, inl_worst_hi, inl_worst_lo = 1.7, 2.4, -2.45
dnl_best, dnl_worst = -2.0, -2.55

GRAY = "#8a8a8a"
TITLE_X = 0.532  # titles sit a bit right of axes centre

fig = plt.figure(figsize=(6.39, 4.73), dpi=100)
ax1 = fig.add_axes([0.0775, 0.594, 0.916, 0.3446])
ax2 = fig.add_axes([0.0775, 0.086, 0.916, 0.3374])


def style_axes(ax):
    ax.set_xlim(0, 255)
    ax.set_xticks([0, 50, 100, 150, 200, 250])
    for x in [50, 100, 150, 200, 250]:
        ax.axvline(x, color="#555555", lw=0.7, zorder=1)
    ax.tick_params(direction="in", length=3, labelsize=10, top=True, right=True)
    for sp in ax.spines.values():
        sp.set_linewidth(0.8)
    ax.set_xlabel("Code", fontsize=11, labelpad=3)


# ==== INL ====
style_axes(ax1)
ax1.set_ylim(-4, 4)
ax1.set_yticks([-4, -2, 0, 2, 4])
ax1.axhline(0, color="#7f7f7f", lw=2.0, zorder=1)
ax1.axhline(2, color="#777777", lw=0.9, zorder=1)
ax1.axhline(-2, color="#666666", lw=1.5, zorder=1)
for v in [inl_best, -inl_best]:
    ax1.axhline(v, color=GRAY, lw=1.8, dashes=(7, 3.5), zorder=1)
for v in [inl_worst_hi, inl_worst_lo]:
    ax1.axhline(v, color=GRAY, lw=1.1, dashes=(1, 4), zorder=1)
for i in draw_order:
    ax1.plot(codes, inl_all[i], color=die_colors[i], lw=1.2, zorder=3)
ax1.set_ylabel("INL, [LSB]", fontsize=11, labelpad=2)
ax1.set_title("INL max: +/-2.2 LSB (0.9 LSB rms)", fontsize=11.2,
              fontweight="bold", pad=5, x=TITLE_X)

arrow_kw = dict(arrowstyle="<->,head_length=0.35,head_width=0.18", color="#8c8c8c", lw=1.0,
                shrinkA=0, shrinkB=0)
ax1.annotate("", xy=(11, inl_best), xytext=(11, -inl_best), arrowprops=arrow_kw, zorder=4)
ax1.text(14, inl_best, "best die: 1.8 LSB", fontsize=8, fontweight="bold", va="center",
         ha="left", zorder=5, bbox=dict(facecolor="white", edgecolor="none", pad=0.5))
ax1.annotate("", xy=(64, inl_worst_hi), xytext=(64, inl_worst_lo), arrowprops=arrow_kw, zorder=4)
ax1.text(66, inl_worst_hi, "worst die: 2.2 LSB", fontsize=8, fontweight="bold", va="center",
         ha="left", zorder=5, bbox=dict(facecolor="white", edgecolor="none", pad=0.5))

# ==== DNL ====
style_axes(ax2)
ax2.set_ylim(-3, 2)
ax2.set_yticks([-3, -2, -1, 0, 1, 2])
ax2.axhline(1, color="#808080", lw=1.5, zorder=1)
ax2.axhline(-1, color="#808080", lw=1.5, zorder=1)
ax2.axhline(-2, color="#666666", lw=0.9, zorder=1)
ax2.axhline(dnl_best, color=GRAY, lw=1.8, dashes=(7, 3.5), zorder=1)
ax2.axhline(dnl_worst, color=GRAY, lw=1.1, dashes=(1, 4), zorder=1)
for i in draw_order:
    ax2.plot(codes, dnl_all[i], color=die_colors[i], lw=1.2, zorder=3)
ax2.axhline(0, color="#333333", lw=1.0, dashes=(1, 1.5), zorder=4)
ax2.set_ylabel("DNL, [LSB]", fontsize=11, labelpad=2)
ax2.set_title("DNL max: +/-2.3 LSB (0.9 LSB rms)", fontsize=11.2,
              fontweight="bold", pad=5, x=TITLE_X)

ax2.annotate("", xy=(17.7, 0), xytext=(17.7, dnl_best), arrowprops=arrow_kw, zorder=5)
ax2.text(20.7, dnl_best, "best die: 2.0 LSB", fontsize=8, fontweight="bold", va="center",
         ha="left", zorder=6, bbox=dict(facecolor="white", edgecolor="none", pad=0.5))
ax2.annotate("", xy=(65.2, 0), xytext=(65.2, dnl_worst), arrowprops=arrow_kw, zorder=5)
ax2.text(67.4, dnl_worst, "worst die: 2.3 LSB", fontsize=8, fontweight="bold", va="center",
         ha="left", zorder=6, bbox=dict(facecolor="white", edgecolor="none", pad=0.5))

# ==== legend row between the two panels ====
W, H = 639.0, 473.0
for k, (name, col) in enumerate(zip(die_names, die_colors)):
    xr = 68 + 84.8 * k
    fig.text(xr / W, 1 - 240 / H, name, color=col, fontsize=7.3, fontweight="bold",
             ha="right", va="center")
    fig.add_artist(Line2D([xr / W, (xr + 26) / W], [1 - 239 / H, 1 - 239 / H],
                          color=col, lw=1.4, transform=fig.transFigure))

fig.savefig("out.png", dpi=100)
